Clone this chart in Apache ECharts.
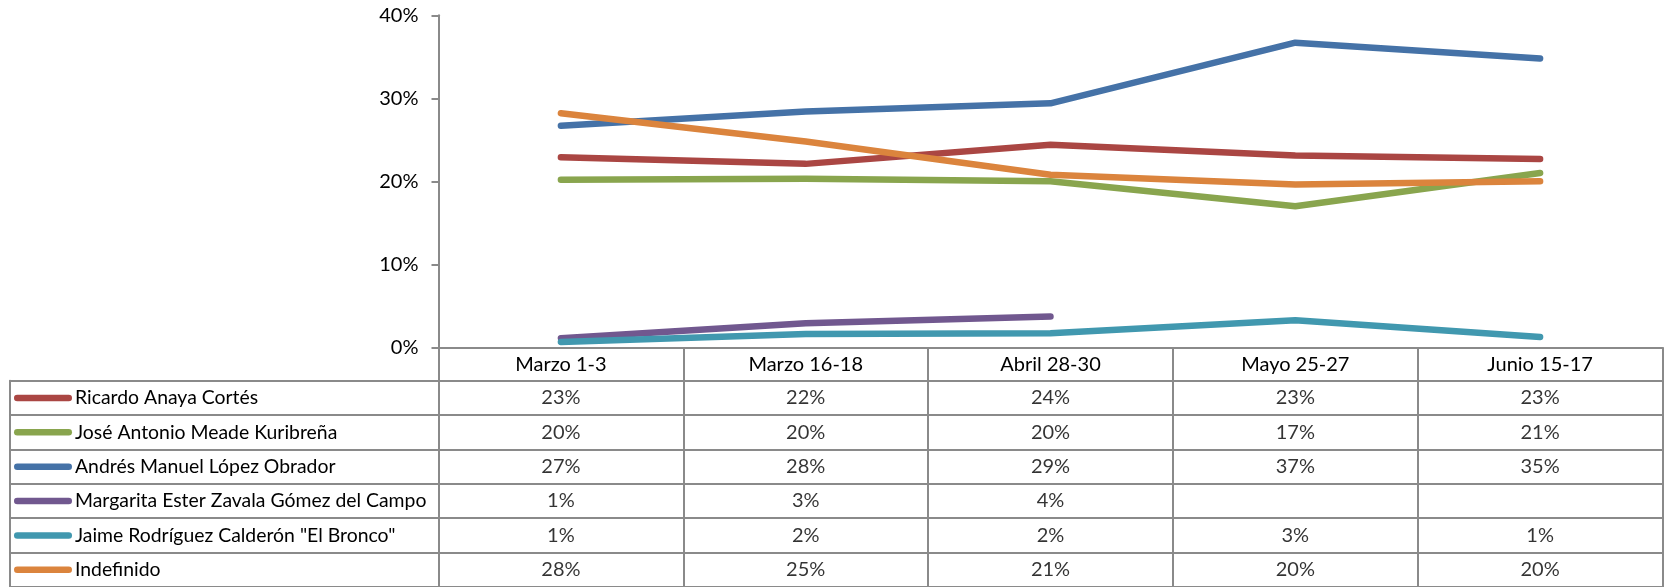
<!DOCTYPE html>
<html>
<head>
<meta charset="utf-8">
<script src="https://cdn.jsdelivr.net/npm/echarts@6/dist/echarts.min.js"></script>
<style>
html,body{margin:0;padding:0;background:#fff;}
#c{width:1667px;height:587px;}
</style>
</head>
<body>
<div id="c"></div>
<script>
var categories = ['Marzo 1-3', 'Marzo 16-18', 'Abril 28-30', 'Mayo 25-27', 'Junio 15-17'];
var seriesNames = ['Ricardo Anaya Cortés', 'José Antonio Meade Kuribreña', 'Andrés Manuel López Obrador', 'Margarita Ester Zavala Gómez del Campo', 'Jaime Rodríguez Calderón "El Bronco"', 'Indefinido'];
var ricardo = [22.9, 22.1, 24.4, 23.1, 22.7];
var jose = [20.2, 20.3, 20.0, 17.0, 21.0];
var andres = [26.7, 28.4, 29.4, 36.7, 34.8];
var margarita = [1.1, 2.9, 3.7, null, null];
var jaime = [0.65, 1.6, 1.7, 3.25, 1.25];
var indefinido = [28.2, 24.8, 20.8, 19.6, 20.0];
var yTicks = [0, 10, 20, 30, 40];
var colors = ['#AA4643', '#89A54E', '#4572A7', '#71588F', '#4198AF', '#DB843D'];

var allValues = [ricardo, jose, andres, margarita, jaime, indefinido];
var FONT = 'Lato';
var FS = 20;
var FS_LEG = 19.4;
var GRID_COLOR = '#8a8a8a';

var series = [];
allValues.forEach(function (vals, i) {
  series.push({
    name: seriesNames[i],
    type: 'line',
    xAxisIndex: 0, yAxisIndex: 0,
    data: vals,
    symbol: 'none',
    connectNulls: false,
    lineStyle: { width: 6.5, color: colors[i], cap: 'round', join: 'round' },
    itemStyle: { color: colors[i] },
    z: 3 + i
  });
});

var cellData = [];
allValues.forEach(function (vals, i) {
  vals.forEach(function (v, j) {
    if (v !== null) cellData.push([j, seriesNames[i], v]);
  });
});
series.push({
  type: 'scatter',
  xAxisIndex: 1, yAxisIndex: 1,
  data: cellData,
  symbolSize: 1,
  itemStyle: { color: 'rgba(0,0,0,0)' },
  label: {
    show: true, position: 'inside',
    fontFamily: FONT, fontSize: FS, color: '#000',
    formatter: function (p) { return Math.round(p.value[2]) + '%'; }
  },
  silent: true
});

var rich = { t: { fontFamily: FONT, fontSize: FS_LEG, color: '#000', padding: [0, 0, 0, 3] } };
seriesNames.forEach(function (n, i) {
  rich['c' + i] = { width: 58, height: 6.5, backgroundColor: colors[i], borderRadius: 3.5 };
});

var chart = echarts.init(document.getElementById('c'), null, { renderer: 'canvas' });
chart.setOption({
  animation: false,
  backgroundColor: '#fff',
  grid: [
    { left: 438.5, right: 4.5, top: 15.3, bottom: 239.7, containLabel: false },
    { left: 438.5, right: 4.5, top: 380.7, bottom: -2.9, containLabel: false }
  ],
  xAxis: [
    {
      type: 'category', gridIndex: 0, data: categories, boundaryGap: true,
      axisLine: { show: true, lineStyle: { color: GRID_COLOR, width: 2 } },
      axisTick: { show: true, length: 33.4, alignWithLabel: false, lineStyle: { color: GRID_COLOR, width: 2 } },
      axisLabel: { fontFamily: FONT, fontSize: FS, color: '#000', margin: 7, lineHeight: 20 },
      splitLine: { show: false }
    },
    {
      type: 'category', gridIndex: 1, data: categories, boundaryGap: true, position: 'top',
      axisLine: { show: true, lineStyle: { color: GRID_COLOR, width: 2 } },
      axisTick: { show: false },
      axisLabel: { show: false },
      splitLine: { show: true, lineStyle: { color: GRID_COLOR, width: 2 } }
    }
  ],
  yAxis: [
    {
      type: 'value', gridIndex: 0, min: 0, max: 40, interval: 10,
      axisLine: { show: true, lineStyle: { color: GRID_COLOR, width: 2 } },
      axisTick: { show: true, length: 7, lineStyle: { color: GRID_COLOR, width: 2 } },
      axisLabel: { fontFamily: FONT, fontSize: FS, color: '#000', margin: 20, formatter: '{value}%',
        customValues: yTicks },
      splitLine: { show: false }
    },
    {
      type: 'category', gridIndex: 1, data: seriesNames, inverse: true, boundaryGap: true,
      axisLine: { show: true, lineStyle: { color: GRID_COLOR, width: 2 } },
      axisTick: { show: true, length: 429.2, alignWithLabel: false, lineStyle: { color: GRID_COLOR, width: 2 } },
      axisLabel: {
        show: true, align: 'left', margin: 424.5,
        formatter: function (v) { return '{c' + seriesNames.indexOf(v) + '|}{t|' + v + '}'; },
        rich: rich
      },
      splitLine: { show: true, lineStyle: { color: GRID_COLOR, width: 2 } }
    },
    {
      type: 'category', gridIndex: 1, data: seriesNames, inverse: true, position: 'left', offset: 429.2,
      axisLine: { show: true, lineStyle: { color: GRID_COLOR, width: 2 } },
      axisTick: { show: false }, axisLabel: { show: false }, splitLine: { show: false }
    },
    {
      type: 'category', gridIndex: 1, data: seriesNames, inverse: true, position: 'right',
      axisLine: { show: true, lineStyle: { color: GRID_COLOR, width: 2 } },
      axisTick: { show: false }, axisLabel: { show: false }, splitLine: { show: false }
    }
  ],
  series: series
});
</script>
</body>
</html>
